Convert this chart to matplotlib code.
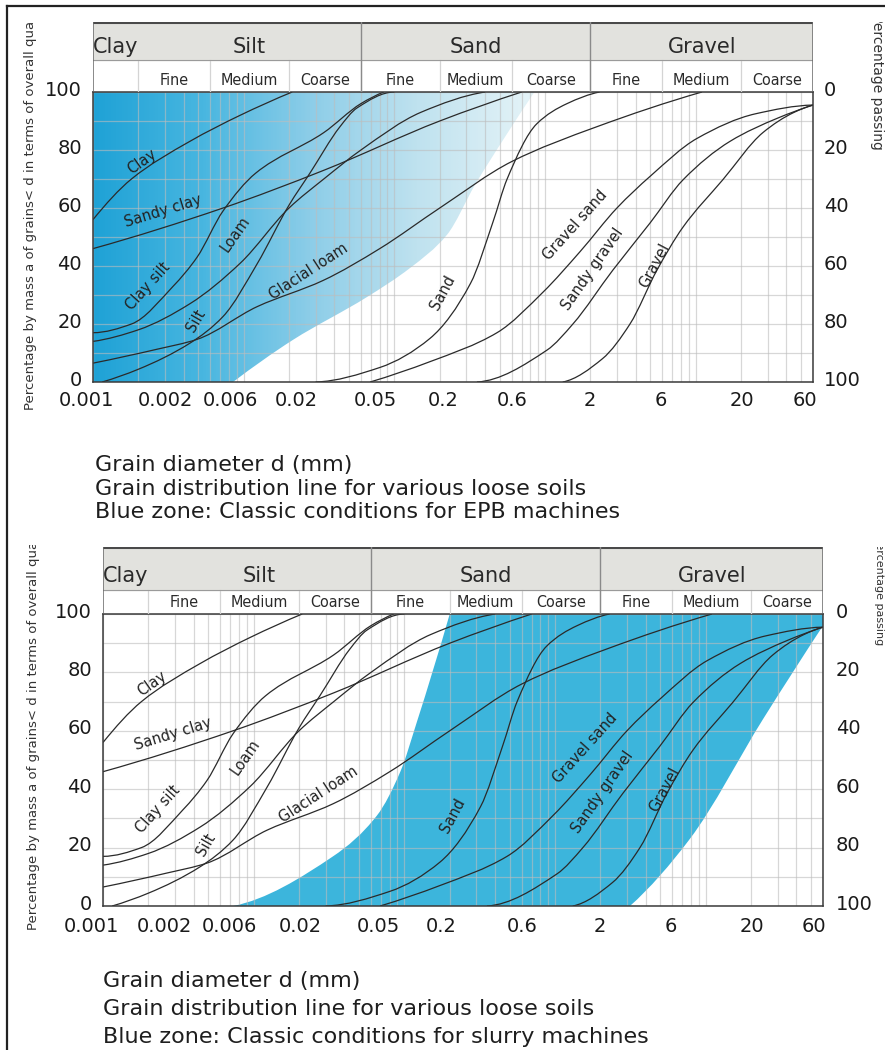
import numpy as np
import matplotlib
matplotlib.use("Agg")
import matplotlib.pyplot as plt
from matplotlib.path import Path
from matplotlib.patches import PathPatch, Rectangle
from matplotlib.lines import Line2D
from matplotlib.image import AxesImage
from matplotlib.colors import LinearSegmentedColormap
from matplotlib.ticker import FixedLocator, LogLocator, NullFormatter, MultipleLocator
from matplotlib.transforms import ScaledTranslation

W, H, DPI = 885, 1050, 100
plt.rcParams["font.family"] = ["DejaVu Sans"]

# ---------------- data ----------------
x_tick_values = [0.001, 0.002, 0.006, 0.02, 0.05, 0.2, 0.6, 2, 6, 20, 60]
x_tick_labels = ["0.001", "0.002", "0.006", "0.02", "0.05", "0.2", "0.6", "2", "6", "20", "60"]
y_ticks = [0, 20, 40, 60, 80, 100]

main_names = ["Clay", "Silt", "Sand", "Gravel"]
main_limits = [0.001, 0.002, 0.06, 2, 60]
sub_names = ["Fine", "Medium", "Coarse", "Fine", "Medium", "Coarse", "Fine", "Medium", "Coarse"]
sub_limits = [0.002, 0.006, 0.02, 0.06, 0.2, 0.6, 2, 6, 20, 60]

# grain distribution lines: diameter (mm) and percentage passing (%)
clay_d = [0.001, 0.0018, 0.0044, 0.0095, 0.021]
clay_p = [56, 70, 83, 92, 100]
sandy_clay_d = [0.001, 0.0073, 0.034, 0.2, 0.7]
sandy_clay_p = [46, 60, 73, 90, 100]
clay_silt_d = [0.001, 0.0018, 0.0034, 0.0049, 0.0073, 0.012, 0.034, 0.06, 0.085]
clay_silt_p = [17, 20, 33, 43, 59, 72, 86, 96, 100]
loam_d = [0.001, 0.002, 0.0044, 0.0095, 0.02, 0.034, 0.06, 0.15, 0.4]
loam_p = [14, 18, 27, 41, 60, 70, 80, 93, 100]
silt_d = [0.00115, 0.002, 0.0044, 0.0073, 0.0123, 0.02, 0.0275, 0.0435, 0.0565, 0.1]
silt_p = [0, 4.4, 13.4, 22.6, 40.8, 61, 72, 88, 94.5, 100]
glacial_loam_d = [0.001, 0.00266, 0.0049, 0.0123, 0.0336, 0.08, 0.2, 0.6, 2.2, 11]
glacial_loam_p = [6.5, 11.3, 14.7, 26, 35, 46, 60, 76, 88, 100]
sand_d = [0.03, 0.08, 0.172, 0.32, 0.45, 0.56, 0.88, 1.4, 2.3]
sand_p = [0, 5, 15, 34, 55, 70, 89, 96, 100]
gravel_sand_d = [0.069, 0.172, 0.48, 0.97, 1.71, 3.0, 5.0, 10.2, 25, 60]
gravel_sand_p = [0, 7, 17, 31, 45, 60, 71, 84, 92.5, 95.5]
sandy_gravel_d = [0.353, 1.03, 1.53, 2.82, 4.97, 8.23, 16.9, 35, 60]
sandy_gravel_p = [0, 11, 20, 38.6, 54.8, 69.7, 83, 91, 95.5]
gravel_d = [1.31, 2.4, 3.66, 5.53, 8.23, 15.1, 27.9, 45, 60]
gravel_p = [0, 8, 20, 38.6, 53.4, 69.7, 86, 93, 95.5]

curves = [
    (clay_d, clay_p), (sandy_clay_d, sandy_clay_p), (clay_silt_d, clay_silt_p),
    (loam_d, loam_p), (silt_d, silt_p), (glacial_loam_d, glacial_loam_p),
    (sand_d, sand_p), (gravel_sand_d, gravel_sand_p),
    (sandy_gravel_d, sandy_gravel_p), (gravel_d, gravel_p),
]

curve_label_names = ["Clay", "Sandy clay", "Clay silt", "Loam", "Glacial loam", "Silt",
                     "Sand", "Gravel sand", "Sandy gravel", "Gravel"]
curve_label_d = [0.0021, 0.0029, 0.0023, 0.0088, 0.027, 0.0048, 0.21, 1.58, 2.05, 5.36]
curve_label_p = [76, 59, 33, 51, 38, 21, 31, 54, 39, 40]
curve_label_rot = [35, 17, 48, 55, 33, 60, 62, 48, 55, 62]

# EPB zone (upper chart): boundary of the blue area
epb_d = [0.0085, 0.0212, 0.0658, 0.127, 0.223, 0.343, 0.55, 0.85]
epb_p = [0, 14.5, 29.3, 39.3, 50.7, 68, 85, 100]
# slurry zone (lower chart): left and right boundaries
slurry_left_d = [0.0073, 0.0336, 0.0658, 0.094, 0.121, 0.2]
slurry_left_p = [0, 17, 31, 46, 63, 100]
slurry_right_d = [3.14, 7.85, 24, 60]
slurry_right_p = [0, 23, 64, 96]

caption_top = ["Grain diameter d (mm)", "Grain distribution line for various loose soils",
               "Blue zone: Classic conditions for EPB machines"]
caption_bottom = ["Grain diameter d (mm)", "Grain distribution line for various loose soils",
                  "Blue zone: Classic conditions for slurry machines"]
left_ylabel = "Percentage by mass a of grains< d in terms of overall quantity"
right_ylabel = "Percentage passing"

XMIN, XMAX = 0.001, 60

# ---------------- helpers ----------------
def pchip_slopes(u, v):
    n = len(u)
    h = np.diff(u)
    dlt = np.diff(v) / h
    m = np.zeros(n)
    for i in range(1, n - 1):
        if dlt[i - 1] * dlt[i] <= 0:
            m[i] = 0.0
        else:
            w1 = 2 * h[i] + h[i - 1]
            w2 = h[i] + 2 * h[i - 1]
            m[i] = (w1 + w2) / (w1 / dlt[i - 1] + w2 / dlt[i])
    if n > 2:
        m0 = ((2 * h[0] + h[1]) * dlt[0] - h[0] * dlt[1]) / (h[0] + h[1])
        if np.sign(m0) != np.sign(dlt[0]):
            m0 = 0.0
        elif np.sign(dlt[0]) != np.sign(dlt[1]) and abs(m0) > abs(3 * dlt[0]):
            m0 = 3 * dlt[0]
        mn = ((2 * h[-1] + h[-2]) * dlt[-1] - h[-1] * dlt[-2]) / (h[-1] + h[-2])
        if np.sign(mn) != np.sign(dlt[-1]):
            mn = 0.0
        elif np.sign(dlt[-1]) != np.sign(dlt[-2]) and abs(mn) > abs(3 * dlt[-1]):
            mn = 3 * dlt[-1]
        m[0], m[-1] = m0, mn
    else:
        m[:] = dlt[0]
    return m


def bez(xs, ys):
    """Bezier vertices of a smooth monotone line through the read points (log-x space)."""
    u = np.log10(np.asarray(xs, float))
    v = np.asarray(ys, float)
    rev = u[0] > u[-1]
    if rev:
        u, v = u[::-1], v[::-1]
    m = pchip_slopes(u, v)
    verts = [(u[0], v[0])]
    for i in range(len(u) - 1):
        h = u[i + 1] - u[i]
        verts += [(u[i] + h / 3, v[i] + m[i] * h / 3),
                  (u[i + 1] - h / 3, v[i + 1] - m[i + 1] * h / 3),
                  (u[i + 1], v[i + 1])]
    verts = np.array(verts)
    if rev:
        verts = verts[::-1]
    verts[:, 0] = 10 ** verts[:, 0]
    return verts


def curve_path(xs, ys):
    v = bez(xs, ys)
    codes = [Path.MOVETO] + [Path.CURVE4] * (len(v) - 1)
    return Path(v, codes)


def frac_rect(l, t, r, b):
    return [l / W, 1 - b / H, (r - l) / W, (b - t) / H]


fig = plt.figure(figsize=(W / DPI, H / DPI), dpi=DPI)
fig.patch.set_facecolor("white")

LINE_C = "#2a2a2a"
GRID_C = "#bdbdbd"
BLUE = "#3cb5dc"
epb_cmap = LinearSegmentedColormap.from_list(
    "epb", [(0.0, "#1fa2d6"), (0.15, "#48b6e0"), (0.30, "#8ccde8"),
            (0.45, "#bfe2ef"), (0.60, "#e2f2f7"), (1.0, "#f4fafc")])


def draw_chart(plot_px, head_px, band_bottom_px, zone, tick_dx, xpad, rpad,
               cap_lines, cap_x, cap_y, cap_dy, cap_size, ylab, rlab):
    l, t, r, b = plot_px
    ax = fig.add_axes(frac_rect(l, t, r, b))
    ax.set_xscale("log")
    ax.set_xlim(XMIN, XMAX)
    ax.set_ylim(0, 100)
    ax.set_facecolor("white")

    # blue zone
    if zone == "epb":
        v = bez(epb_d, epb_p)
        verts = [(XMIN, 0)] + list(map(tuple, v)) + [(XMIN, 100), (XMIN, 0)]
        codes = ([Path.MOVETO, Path.LINETO] + [Path.CURVE4] * (len(v) - 1)
                 + [Path.LINETO, Path.CLOSEPOLY])
        patch = PathPatch(Path(verts, codes), transform=ax.transData,
                          facecolor="none", edgecolor="none")
        ax.add_patch(patch)
        im = AxesImage(ax, cmap=epb_cmap, interpolation="bilinear",
                       extent=(0, 1, 0, 1), transform=ax.transAxes, zorder=1)
        im.set_data(np.linspace(0, 1, 600).reshape(1, -1))
        ax.add_image(im)
        im.set_clip_path(patch)
    else:
        vl = bez(slurry_left_d, slurry_left_p)
        vr = bez(slurry_right_d[::-1], slurry_right_p[::-1])
        verts = (list(map(tuple, vl)) + [(XMAX, 100)] + [tuple(vr[0])]
                 + list(map(tuple, vr[1:])) + [tuple(vl[0])])
        codes = ([Path.MOVETO] + [Path.CURVE4] * (len(vl) - 1) + [Path.LINETO, Path.LINETO]
                 + [Path.CURVE4] * (len(vr) - 1) + [Path.CLOSEPOLY])
        ax.add_patch(PathPatch(Path(verts, codes), transform=ax.transData,
                               facecolor=BLUE, edgecolor="none", zorder=1))

    # grid
    ax.xaxis.set_major_locator(FixedLocator(x_tick_values))
    ax.xaxis.set_minor_locator(LogLocator(base=10, subs=np.arange(1, 10), numticks=40))
    ax.xaxis.set_major_formatter(NullFormatter())
    ax.xaxis.set_minor_formatter(NullFormatter())
    ax.yaxis.set_major_locator(FixedLocator(y_ticks))
    ax.yaxis.set_minor_locator(MultipleLocator(10))
    ax.grid(which="both", color=GRID_C, lw=0.9, alpha=0.6, zorder=2)
    ax.set_axisbelow(False)
    ax.tick_params(which="both", length=0)
    ax.tick_params(axis="y", labelsize=14, pad=11 * 72 / DPI, colors="#1a1a1a")
    for s in ax.spines.values():
        s.set_color("#3a3a3a"); s.set_linewidth(1.1); s.set_zorder(6)
    up = ScaledTranslation(0, 4 / DPI, fig.dpi_scale_trans)
    for lab in ax.get_yticklabels():
        lab.set_transform(lab.get_transform() + up)

    # curves
    for xs, ys in curves:
        ax.add_patch(PathPatch(curve_path(xs, ys), facecolor="none", edgecolor=LINE_C,
                               lw=0.9, transform=ax.transData, zorder=4))
    for name, d, p, rot in zip(curve_label_names, curve_label_d, curve_label_p, curve_label_rot):
        ax.text(d, p, name, rotation=rot, ha="center", va="center", fontsize=10.5,
                color="#222222", zorder=5, rotation_mode="anchor")

    # x tick labels
    for val, lab, dx in zip(x_tick_values, x_tick_labels, tick_dx):
        ax.annotate(lab, xy=(val, 0), xycoords=("data", "axes fraction"),
                    xytext=(dx * 72 / DPI, -xpad * 72 / DPI), textcoords="offset points",
                    ha="center", va="top", fontsize=14, color="#1a1a1a")

    # right axis (percentage passing)
    ax2 = ax.twinx()
    ax2.set_ylim(100, 0)
    ax2.yaxis.set_major_locator(FixedLocator(y_ticks))
    ax2.tick_params(length=0, labelsize=14, pad=rpad * 72 / DPI, colors="#1a1a1a")
    for s in ax2.spines.values():
        s.set_visible(False)
    for lab in ax2.get_yticklabels():
        lab.set_transform(lab.get_transform() + up)

    # header
    hl, ht, hr, hb = head_px
    hx = fig.add_axes(frac_rect(hl, ht, hr, hb))
    hx.set_xscale("log")
    hx.set_xlim(XMIN, XMAX)
    hx.set_ylim(0, 1)
    hx.axis("off")
    band = (hb - band_bottom_px) / (hb - ht)
    hx.axhspan(band, 1, color="#e2e2de", zorder=0)
    hx.axhline(1, color="#4a4a4a", lw=2.2, zorder=3)
    hx.axhline(band, color="#9a9a9a", lw=0.8, zorder=3)
    hx.axvline(XMIN, color="#6a6a6a", lw=1.1, zorder=3)
    hx.axvline(XMAX, color="#6a6a6a", lw=1.1, zorder=3)
    for bnd in main_limits[2:-1]:
        hx.axvline(bnd, ymin=0, ymax=1, color="#8a8a8a", lw=1.0, zorder=3)
    for bnd in sub_limits[:-1]:
        hx.axvline(bnd, ymin=0, ymax=band, color="#d4d4d4", lw=0.9, zorder=2)
    for i, nm in enumerate(main_names):
        xc = np.sqrt(main_limits[i] * main_limits[i + 1])
        hx.text(xc, band + 0.1 * (1 - band) / 0.54, nm, ha="center", va="baseline",
                fontsize=15, color="#2a2a2a")
    for i, nm in enumerate(sub_names):
        xc = np.sqrt(sub_limits[i] * sub_limits[i + 1])
        hx.text(xc, 0.1, nm, ha="center", va="baseline", fontsize=11.5,
                fontstretch="condensed", color="#2a2a2a")

    # captions
    for k, line in enumerate(cap_lines):
        fig.text(cap_x / W, 1 - (cap_y + k * cap_dy) / H, line, ha="left", va="baseline",
                 fontsize=cap_size, color="#1e1e1e")

    # rotated, cropped axis titles
    (lx, lyb, lclip) = ylab
    tl = fig.text(lx / W, 1 - lyb / H, left_ylabel, rotation=90, ha="center", va="bottom",
                  fontsize=9.5, color="#333333")
    tl.set_clip_path(Rectangle((0, 0), 1, 1 - lclip / H, transform=fig.transFigure))
    (rx, ryb, rclip, rsize) = rlab
    tr = fig.text(rx / W, 1 - ryb / H, right_ylabel, rotation=-90, ha="center", va="bottom",
                  fontsize=rsize, color="#333333")
    tr.set_clip_path(Rectangle((0, 0), 1, 1 - rclip / H, transform=fig.transFigure))


draw_chart((93, 92, 813, 382), (93, 22, 813, 92), 60, "epb",
           [-7, 27, 20, 7, 26, 3, 1, -1, -2, 1, -8], 9, 11,
           caption_top, 95, 471, 23.5, 16, (31, 410, 22), (877, 150, 22, 10))
draw_chart((103, 614, 823, 906), (103, 547, 823, 614), 590, "slurry",
           [-12, 16, 9, 1, 19, -9, 1, -1, -2, 1, -9], 11, 13,
           caption_bottom, 103, 987, 28, 16, (34, 930, 545), (879, 645, 547, 8))

# frame lines of the page
fig.add_artist(Line2D([7 / W, 1], [1 - 6 / H, 1 - 6 / H], transform=fig.transFigure,
                      color="#222222", lw=1.6))
fig.add_artist(Line2D([7 / W, 7 / W], [0, 1 - 6 / H], transform=fig.transFigure,
                      color="#222222", lw=1.6))

fig.savefig("out.png", dpi=DPI, facecolor="white")
